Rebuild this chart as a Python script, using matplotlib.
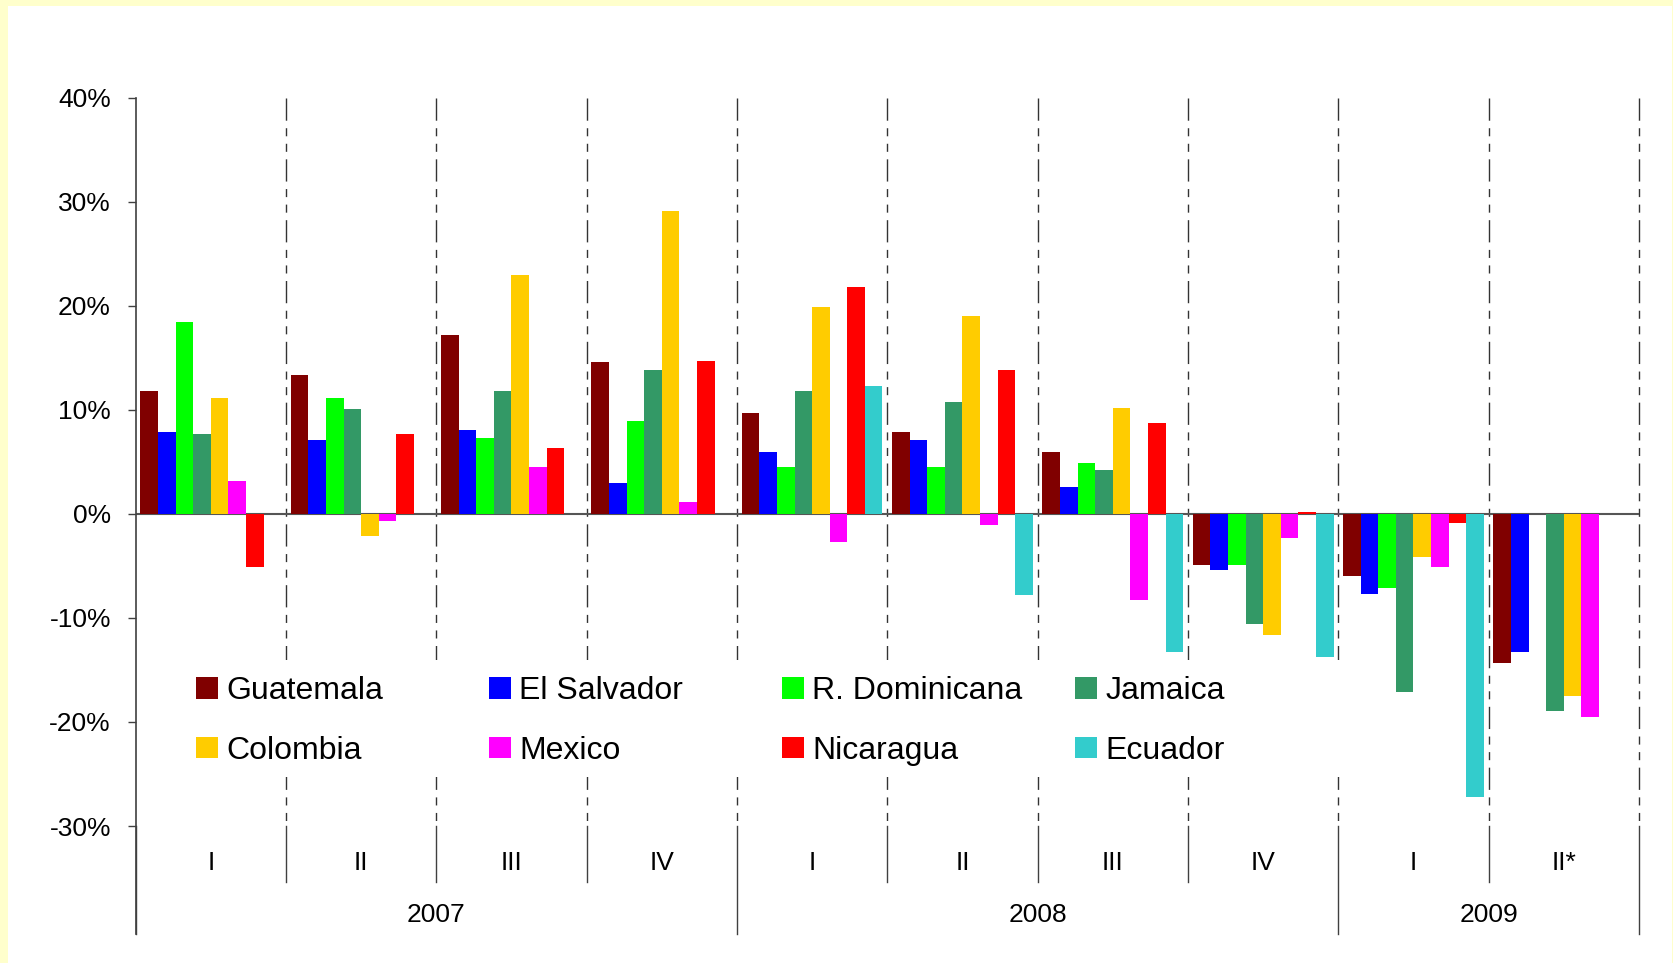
import numpy as np
import matplotlib
matplotlib.use("Agg")
import matplotlib.pyplot as plt
from matplotlib.patches import Rectangle, Patch

plt.rcParams['font.family'] = ['Liberation Sans', 'DejaVu Sans']

nan = np.nan

# quarters: 2007 I-IV, 2008 I-IV, 2009 I-II*
quarters = ["I", "II", "III", "IV", "I", "II", "III", "IV", "I", "II*"]
years = ["2007", "2008", "2009"]
year_spans = [(0, 4), (4, 8), (8, 10)]

series_names = ["Guatemala", "El Salvador", "R. Dominicana", "Jamaica",
                "Colombia", "Mexico", "Nicaragua", "Ecuador"]
guatemala = [11.8, 13.3, 17.2, 14.6, 9.7, 7.9, 5.9, -4.9, -6.0, -14.3]
el_salvador = [7.9, 7.1, 8.1, 3.0, 5.9, 7.1, 2.6, -5.4, -7.7, -13.3]
r_dominicana = [18.4, 11.1, 7.3, 8.9, 4.5, 4.5, 4.9, -4.9, -7.1, nan]
jamaica = [7.7, 10.1, 11.8, 13.8, 11.8, 10.8, 4.2, -10.6, -17.1, -18.9]
colombia = [11.1, -2.1, 23.0, 29.1, 19.9, 19.0, 10.2, -11.6, -4.1, -17.5]
mexico = [3.2, -0.7, 4.5, 1.1, -2.7, -1.1, -8.3, -2.3, -5.1, -19.5]
nicaragua = [-5.1, 7.7, 6.3, 14.7, 21.8, 13.8, 8.7, 0.2, -0.9, nan]
ecuador = [nan, nan, nan, nan, 12.3, -7.8, -13.3, -13.8, -27.2, nan]

series = [guatemala, el_salvador, r_dominicana, jamaica,
          colombia, mexico, nicaragua, ecuador]
colors = ["#800000", "#0000FF", "#00FF00", "#339966",
          "#FFCC00", "#FF00FF", "#FF0000", "#33CCCC"]

W, H = 1674, 963
fig = plt.figure(figsize=(W / 100, H / 100), dpi=100)
fig.patch.set_facecolor("#FFFFCC")
fig.add_artist(Rectangle((8 / W, 0), (W - 10) / W, (H - 6) / H,
                         transform=fig.transFigure, facecolor="white",
                         edgecolor="none", zorder=-10))

x0, x1, ytop, ybot = 135.6, 1639, 97.7, 826
ax = fig.add_axes([x0 / W, 1 - ybot / H, (x1 - x0) / W, (ybot - ytop) / H])
ax.patch.set_visible(False)
for s in ax.spines.values():
    s.set_visible(False)

n = len(quarters)
x = np.arange(n)
bw = 0.117
for j, (name, vals, c) in enumerate(zip(series_names, series, colors)):
    ax.bar(x + 0.5 + (j - 3.5) * bw, vals, width=bw, color=c,
           label=name, zorder=3)

ax.set_xlim(0, n)
ax.set_ylim(-30, 40)
ax.set_xticks([])
yt = np.arange(-30, 41, 10)
ax.set_yticks(yt)
ax.set_yticklabels([f"{v}%" for v in yt], fontsize=19)
ax.tick_params(axis="y", length=5.8, width=1, color="#404040", pad=12)

axis_col = "#404040"
ax.axhline(0, color="#555555", lw=1.5, zorder=2)

trans = ax.get_xaxis_transform()
# y axis line, extended through category labels
ax.plot([0, 0], [1, -0.148], transform=trans, color=axis_col, lw=1.2,
        clip_on=False, zorder=2)
year_edges = {0, 4, 8, 10}
for b in range(1, n + 1):
    ax.plot([b, b], [1, 0], transform=trans, color="#333333", lw=1,
            linestyle=(0, (16, 5.4, 5.8, 5.4, 5.8, 5.4)), clip_on=False,
            zorder=1)
for b in range(0, n + 1):
    bottom = -0.148 if b in year_edges else -0.0769
    ax.plot([b, b], [0, bottom], transform=trans, color=axis_col, lw=1,
            clip_on=False, zorder=2)

for i, q in enumerate(quarters):
    ax.text(i + 0.5, -0.0508, q, transform=trans, ha="center", va="center",
            fontsize=19)
for yr, (a, b) in zip(years, year_spans):
    ax.text((a + b) / 2, -0.122, yr, transform=trans, ha="center",
            va="center", fontsize=19)

# white legend area
ax.add_patch(Rectangle((170 / W, 1 - 777 / H), (1420 - 170) / W, (777 - 660) / H,
                       transform=fig.transFigure, facecolor="white",
                       edgecolor="none", zorder=1.5, clip_on=False))

col_x = [196, 489, 782, 1075]
for c in range(4):
    handles = [Patch(facecolor=colors[c]), Patch(facecolor=colors[c + 4])]
    labels = [series_names[c], series_names[c + 4]]
    fig.legend(handles, labels, loc="center left",
               bbox_to_anchor=(col_x[c] / W, 1 - 721 / H),
               frameon=False, fontsize=23, borderpad=0, borderaxespad=0,
               handlelength=0.68, handleheight=0.68, handletextpad=0.27,
               labelspacing=0.92)

fig.savefig("out.png", dpi=100, facecolor=fig.get_facecolor())
